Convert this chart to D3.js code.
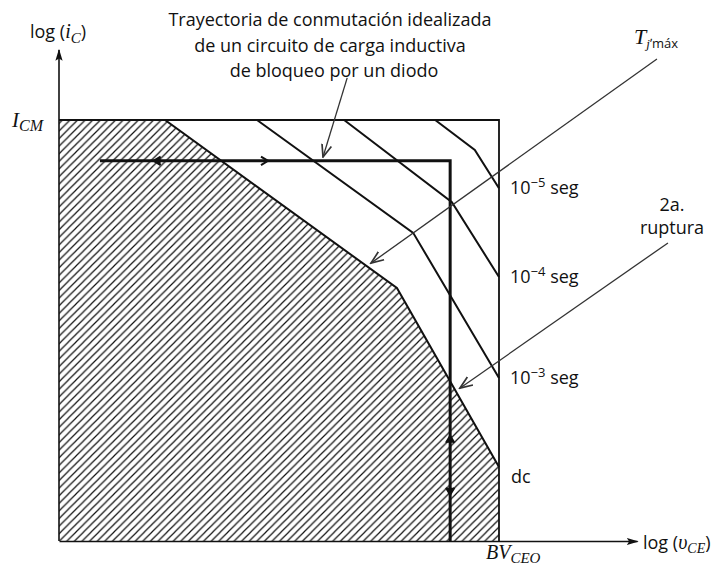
<!DOCTYPE html>
<html>
<head>
<meta charset="utf-8">
<script src="https://cdn.jsdelivr.net/npm/d3@7"></script>
<style>
  body { margin: 0; background: #fff; }
  .sans { font-family: "Open Sans", "Noto Sans", sans-serif; fill: #111; }
  .math { font-family: "Liberation Serif", "DejaVu Serif", serif; font-style: italic; fill: #111; }
</style>
</head>
<body>
<div id="svg-area"></div>
<script>
// Normalised log-log units: x = 100 at BV_CEO, y = 100 at I_CM
var dcCurve   = [[0, 100], [24.1, 100], [76.8, 60.1], [100, 17.6]];
var ms1Curve  = [[45, 100], [80.5, 73.2], [100, 38.7]];
var us100Curve = [[64.8, 100], [89.3, 80.5], [100, 62.7]];
var us10Curve = [[85.5, 100], [94.5, 92.9], [100, 83.8]];
var trajectory = [[9.3, 90.3], [88.9, 90.3], [88.9, 0]];
var curveLabels = [
  { exp: "−5", y: 83.8 },
  { exp: "−4", y: 62.7 },
  { exp: "−3", y: 38.7 }
];
var titleLines = ["Trayectoria de conmutación idealizada", "de un circuito de carga inductiva", "de bloqueo por un diodo"];
var tjArrow = [[135.9, 114.5], [70.9, 66.0]];
var rupArrow = [[138.4, 70.8], [91.1, 36.3]];
var titleArrow = [[65.5, 110], [60, 91.2]];

var svgWidth = 723;
var svgHeight = 570;

var svg = d3.select("#svg-area")
  .append("svg")
  .attr("width", svgWidth)
  .attr("height", svgHeight);

// scales
var x = d3.scaleLinear().domain([0, 100]).range([59, 499]);
var y = d3.scaleLinear().domain([0, 100]).range([541, 120]);

var line = d3.line().x(d => x(d[0])).y(d => y(d[1]));

// hatch pattern
var defs = svg.append("defs");
var hs = 7.6;
defs.append("pattern")
  .attr("id", "hatch")
  .attr("patternUnits", "userSpaceOnUse")
  .attr("width", hs).attr("height", hs)
  .append("path")
  .attr("d", `M0,${hs} L${hs},0 M-1,1 L1,-1 M${hs - 1},${hs + 1} L${hs + 1},${hs - 1}`)
  .attr("stroke", "#111")
  .attr("stroke-width", 1.2);

defs.append("marker")
  .attr("id", "thinhead")
  .attr("viewBox", "0 0 10 10")
  .attr("refX", 9).attr("refY", 5)
  .attr("markerWidth", 14).attr("markerHeight", 14)
  .attr("markerUnits", "userSpaceOnUse")
  .attr("orient", "auto")
  .append("path")
  .attr("d", "M0,1.5 L9,5 L0,8.5")
  .attr("fill", "none")
  .attr("stroke", "#333")
  .attr("stroke-width", 1.2);

defs.append("marker")
  .attr("id", "axishead")
  .attr("viewBox", "0 0 10 10")
  .attr("refX", 9).attr("refY", 5)
  .attr("markerWidth", 12).attr("markerHeight", 12)
  .attr("markerUnits", "userSpaceOnUse")
  .attr("orient", "auto")
  .append("path")
  .attr("d", "M0,2 L10,5 L0,8 L2,5 Z")
  .attr("fill", "#111");

// hatched dc region
var dcArea = [[0, 0]].concat(dcCurve).concat([[100, 0]]);
svg.append("path")
  .attr("d", line(dcArea) + "Z")
  .attr("fill", "url(#hatch)")
  .attr("stroke", "none");

// axes
var xAxisScale = d3.scaleLinear().domain([0, 131.4]).range([59, 637]);
var yAxisScale = d3.scaleLinear().domain([0, 116.6]).range([541, 50]);

var gx = svg.append("g")
  .attr("transform", `translate(0, ${y(0)})`)
  .call(d3.axisBottom(xAxisScale).tickValues([]).tickSizeOuter(0));
var gy = svg.append("g")
  .attr("transform", `translate(${x(0)}, 0)`)
  .call(d3.axisLeft(yAxisScale).tickValues([]).tickSizeOuter(0));
gx.select(".domain").attr("stroke", "#111").attr("stroke-width", 1.6).attr("marker-end", "url(#axishead)");
gy.select(".domain").attr("stroke", "#111").attr("stroke-width", 1.6)
  .attr("d", `M0,${yAxisScale(0)}V${yAxisScale(116.6)}`)
  .attr("marker-end", "url(#axishead)");

// outer box (I_CM and BV_CEO limits)
svg.append("path")
  .attr("d", line([[0, 100], [100, 100], [100, 0]]))
  .attr("fill", "none")
  .attr("stroke", "#111")
  .attr("stroke-width", 1.8);

// SOA curves
[dcCurve, ms1Curve, us100Curve, us10Curve].forEach(function(c) {
  svg.append("path")
    .attr("d", line(c))
    .attr("fill", "none")
    .attr("stroke", "#111")
    .attr("stroke-width", 2);
});

// switching trajectory
svg.append("path")
  .attr("d", line(trajectory))
  .attr("fill", "none")
  .attr("stroke", "#111")
  .attr("stroke-width", 3);

// direction arrows on trajectory
function chevron(px, py, dir, open) {
  var s = 7, p;
  if (dir === "right") p = `M${px - s},${py - s * 0.6} L${px},${py} L${px - s},${py + s * 0.6}`;
  if (dir === "left") p = `M${px + s},${py - s * 0.6} L${px},${py} L${px + s},${py + s * 0.6}`;
  if (dir === "up") p = `M${px - s * 0.6},${py + s} L${px},${py} L${px + s * 0.6},${py + s}`;
  if (dir === "down") p = `M${px - s * 0.6},${py - s} L${px},${py} L${px + s * 0.6},${py - s}`;
  svg.append("path").attr("d", p).attr("fill", open ? "none" : "#111").attr("stroke", "#111")
    .attr("stroke-width", 2).attr("stroke-linejoin", "miter");
}
chevron(x(21.5), y(90.3), "left");
chevron(x(47.5), y(90.3), "right", true);
chevron(x(88.9), y(25), "up");
chevron(x(88.9), y(11), "down");

// annotation arrows
[tjArrow, rupArrow, titleArrow].forEach(function(a) {
  svg.append("path")
    .attr("d", line(a))
    .attr("fill", "none")
    .attr("stroke", "#333")
    .attr("stroke-width", 1.3)
    .attr("marker-end", "url(#thinhead)");
});

// title text
svg.selectAll(".title")
  .data(titleLines)
  .enter()
  .append("text")
  .attr("class", "sans")
  .attr("x", (d, i) => i === 2 ? 334 : 330)
  .attr("y", (d, i) => 26 + i * 25.5)
  .attr("text-anchor", "middle")
  .style("font-size", "18px")
  .text(d => d);

// curve labels
curveLabels.forEach(function(c) {
  var t = svg.append("text").attr("class", "sans")
    .attr("x", x(100) + 11).attr("y", y(c.y) + 6)
    .style("font-size", "18px");
  t.append("tspan").text("10");
  t.append("tspan").attr("dy", -7).style("font-size", "13px").text(c.exp);
  t.append("tspan").attr("dy", 7).text(" seg");
});
svg.append("text").attr("class", "sans")
  .attr("x", x(100) + 12).attr("y", y(dcCurve[3][1]) + 16)
  .style("font-size", "18px")
  .text("dc");

// 2a. ruptura
svg.append("text").attr("class", "sans")
  .attr("x", 672).attr("y", 211).attr("text-anchor", "middle")
  .style("font-size", "18px").text("2a.");
svg.append("text").attr("class", "sans")
  .attr("x", 672).attr("y", 234).attr("text-anchor", "middle")
  .style("font-size", "18px").text("ruptura");

// T_j,max
var tj = svg.append("text").attr("x", 634).attr("y", 44);
tj.append("tspan").attr("class", "math").style("font-size", "22px").text("T");
tj.append("tspan").attr("class", "math").attr("dy", 4).style("font-size", "13px").text("j");
tj.append("tspan").attr("class", "sans").style("font-size", "13px").text("ʼmáx");

// axis labels
var ly = svg.append("text").attr("x", 30).attr("y", 38);
ly.append("tspan").attr("class", "sans").style("font-size", "18px").text("log (");
ly.append("tspan").attr("class", "math").style("font-size", "20px").text("i");
ly.append("tspan").attr("class", "math").attr("dy", 5).style("font-size", "15px").text("C");
ly.append("tspan").attr("class", "sans").attr("dy", -5).style("font-size", "18px").text(")");

var lx = svg.append("text").attr("x", 643).attr("y", 549);
lx.append("tspan").attr("class", "sans").style("font-size", "18px").text("log (");
lx.append("tspan").attr("class", "math").style("font-size", "20px").text("υ");
lx.append("tspan").attr("class", "math").attr("dy", 4).style("font-size", "14px").text("CE");
lx.append("tspan").attr("class", "sans").attr("dy", -4).style("font-size", "18px").text(")");

var icm = svg.append("text").attr("x", 12).attr("y", 127);
icm.append("tspan").attr("class", "math").style("font-size", "21px").text("I");
icm.append("tspan").attr("class", "math").attr("dy", 4).style("font-size", "16px").text("CM");

var bv = svg.append("text").attr("x", 486).attr("y", 559);
bv.append("tspan").attr("class", "math").style("font-size", "20px").text("BV");
bv.append("tspan").attr("class", "math").attr("dy", 4).style("font-size", "15px").text("CEO");
</script>
</body>
</html>
